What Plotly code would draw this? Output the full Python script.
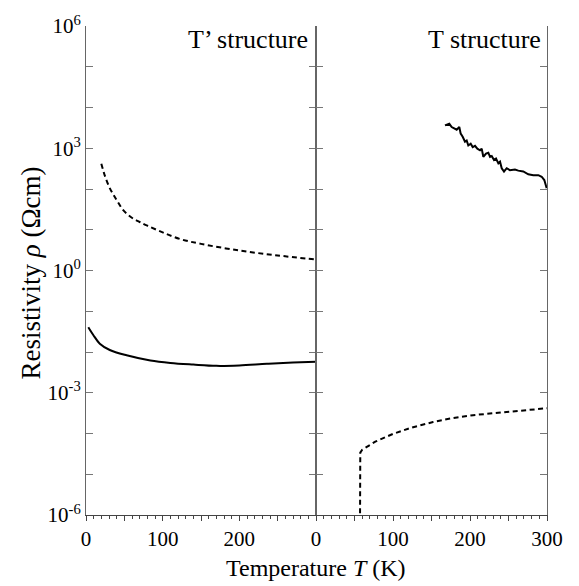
import plotly.graph_objects as go

# ---- data ----
# T' structure panel
tp_dash_T = [20, 25, 31, 36, 41, 48, 55, 62, 70, 80, 100, 123, 150, 200, 250, 300]
tp_dash_rho = [417, 200, 105, 71, 50, 31, 23, 18.5, 15.5, 12.6, 8.6, 5.9, 4.5, 3.09, 2.34, 1.86]
tp_solid_T = [3, 9.5, 18, 31, 53, 84, 110, 140, 170, 200, 236, 270, 300]
tp_solid_rho = [0.0407, 0.0262, 0.0160, 0.0112, 0.0083, 0.00617, 0.00537, 0.0049,
                0.00457, 0.00468, 0.00513, 0.0055, 0.00575]
# T structure panel
t_solid_T = [167.5, 173.1, 176.2, 180.5, 182.7, 186.1, 187.9, 190.5, 193.5, 195.7, 197.8,
             200.9, 203.5, 206.5, 209.5, 213.0, 215.2, 217.3, 220.8, 223.8, 226.0, 228.2,
             231.2, 233.8, 236.8, 239.0, 241.2, 244.2, 247.7, 251.9, 258.4, 262.7, 269.2,
             275.7, 282.2, 288.7, 293.1, 296.5, 298.7, 299.6]
t_solid_rho = [3630, 3980, 3310, 3020, 2850, 3310, 2290, 1910, 1450, 1550, 1170,
               1290, 1070, 1150, 977, 891, 977, 617, 741, 776, 617, 646,
               513, 562, 427, 468, 324, 269, 324, 288, 302, 282, 269,
               229, 219, 219, 200, 166, 126, 105]
t_dash_T = [57, 57.5, 60, 64, 77, 100, 125, 152, 175, 204, 250, 300]
t_dash_rho = [1e-7, 3.39e-5, 3.98e-5, 4.47e-5, 6.31e-5, 9.77e-5, 1.41e-4, 1.91e-4,
              2.34e-4, 2.82e-4, 3.47e-4, 4.17e-4]

y_exps = list(range(-6, 7))
y_labels = [f"10<sup>{e}</sup>" if e % 3 == 0 else "" for e in y_exps]
x_left_vals = [0, 50, 100, 150, 200, 250]
x_left_text = ["0", "", "100", "", "200", ""]
x_right_vals = [0, 50, 100, 150, 200, 250, 300]
x_right_text = ["0", "", "100", "", "200", "", "300"]

FONT = "Liberation Serif"
DASH = "5px,3.5px"

fig = go.Figure()
fig.add_trace(go.Scatter(x=tp_dash_T, y=tp_dash_rho, mode="lines", xaxis="x", yaxis="y",
                         line=dict(color="black", width=2, dash=DASH, shape="spline"),
                         showlegend=False))
fig.add_trace(go.Scatter(x=tp_solid_T, y=tp_solid_rho, mode="lines", xaxis="x", yaxis="y",
                         line=dict(color="black", width=2, shape="spline"), showlegend=False))
fig.add_trace(go.Scatter(x=t_solid_T, y=t_solid_rho, mode="lines", xaxis="x2", yaxis="y2",
                         line=dict(color="black", width=2), showlegend=False))
fig.add_trace(go.Scatter(x=t_dash_T, y=t_dash_rho, mode="lines", xaxis="x2", yaxis="y2",
                         line=dict(color="black", width=2, dash=DASH), showlegend=False))

split = (316 - 86) / (547 - 86)
xcommon = dict(range=[0, 300], showgrid=False, zeroline=False, showline=True,
               linecolor="#444", linewidth=1, ticks="outside", ticklen=5, tickcolor="#444",
               tickfont=dict(family=FONT, size=21, color="black"),
               minor=dict(tickmode="linear", tick0=0, dtick=10, ticks="outside",
                          ticklen=3, tickcolor="#444"))
ycommon = dict(type="log", range=[-6, 6], showgrid=False, zeroline=False, showline=True,
               linecolor="#666", linewidth=1, ticks="inside", ticklen=7, tickcolor="#777",
               mirror="ticks", tickmode="array",
               tickvals=[10 ** e for e in y_exps],
               tickfont=dict(family=FONT, size=21, color="black"))

fig.update_layout(
    width=579, height=586,
    margin=dict(l=86, r=32, t=22, b=71),
    paper_bgcolor="white", plot_bgcolor="white",
    xaxis=dict(domain=[0, split], anchor="y", tickmode="array",
               tickvals=x_left_vals, ticktext=x_left_text, **xcommon),
    xaxis2=dict(domain=[split, 1], anchor="y2", tickmode="array",
                tickvals=x_right_vals, ticktext=x_right_text, **xcommon),
    yaxis=dict(anchor="x", ticktext=y_labels, **ycommon),
    yaxis2=dict(anchor="x2", matches="y", showticklabels=False, ticktext=y_labels, **ycommon),
    font=dict(family=FONT, color="black"),
    annotations=[
        dict(text="T\u2019 structure", x=300, y=1, xref="x", yref="paper",
             xanchor="right", yanchor="top", xshift=-6, yshift=3, showarrow=False,
             font=dict(family=FONT, size=26, color="black")),
        dict(text="T structure", x=300, y=1, xref="x2", yref="paper",
             xanchor="right", yanchor="top", xshift=-4, yshift=3, showarrow=False,
             font=dict(family=FONT, size=26, color="black")),
        dict(text="Temperature <i>T</i> (K)", x=split, y=0, xref="paper", yref="paper",
             xanchor="center", yanchor="top", yshift=-38, showarrow=False,
             font=dict(family=FONT, size=24, color="black")),
        dict(text="Resistivity <i>\u03c1</i> (\u03a9cm)", x=0, y=0.5, xref="paper",
             yref="paper", xanchor="center", yanchor="middle", xshift=-56, yshift=-3,
             textangle=-90, showarrow=False,
             font=dict(family=FONT, size=27, color="black")),
    ],
)

fig.write_html("out.html")
